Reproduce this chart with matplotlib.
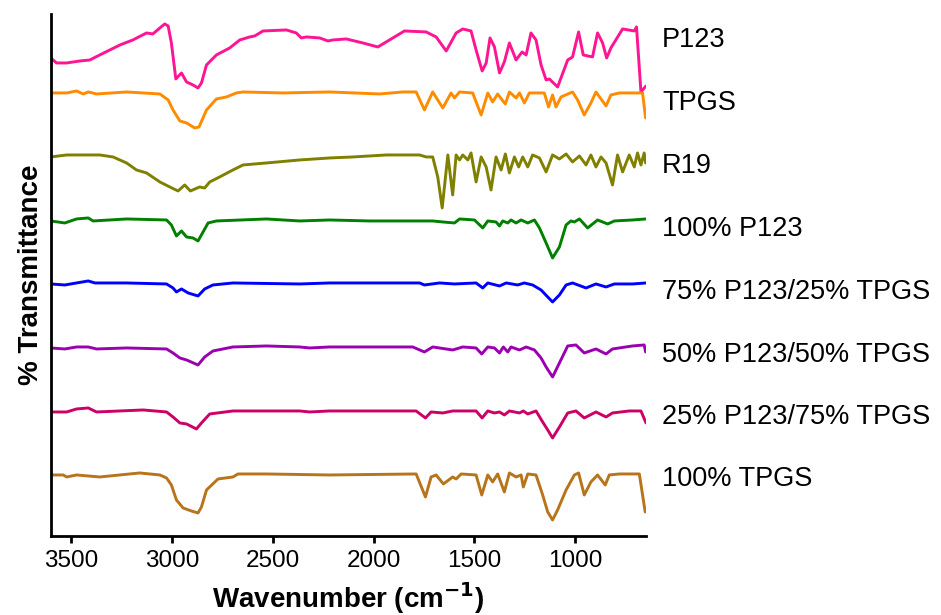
import matplotlib
matplotlib.use("Agg")
import matplotlib.pyplot as plt

plt.rcParams["font.family"] = ["Liberation Sans", "DejaVu Sans"]

# Спектры, сдвинутые по вертикали (волновое число, пропускание со смещением)
p123_wn = [3600, 3571, 3521, 3455, 3406, 3357, 3307, 3257, 3193, 3125, 3094, 3059, 3035, 3018,
           3002, 2980, 2952, 2927, 2895, 2870, 2853, 2828, 2779, 2713, 2663, 2614, 2589, 2548,
           2432, 2383, 2358, 2333, 2267, 2226, 2202, 2135, 2053, 1979, 1921, 1847, 1739, 1690,
           1640, 1591, 1558, 1517, 1492, 1462, 1442, 1423, 1401, 1376, 1352, 1327, 1294, 1264,
           1244, 1220, 1195, 1170, 1145, 1129, 1088, 1038, 1014, 984, 961, 915, 890, 865, 845,
           824, 766, 708, 697, 675, 650]
p123_t = [478, 473, 473, 475, 476, 481, 486, 491, 496, 503, 502, 508, 512, 510,
          493, 457, 463, 454, 451, 448, 453, 471, 481, 488, 496, 499, 500, 505,
          506, 503, 498, 499, 498, 495, 496, 497, 493, 489, 496, 505, 504, 499,
          485, 503, 507, 505, 486, 465, 473, 498, 489, 463, 474, 493, 476, 484,
          481, 503, 496, 471, 456, 457, 449, 476, 479, 504, 481, 479, 503, 493, 478,
          488, 507, 505, 509, 444, 450]

tpgs_wn = [3600, 3521, 3472, 3439, 3414, 3373, 3224, 3059, 3018, 2994, 2960, 2927, 2886, 2865,
           2828, 2779, 2729, 2680, 2647, 2449, 2218, 1971, 1855, 1789, 1748, 1707, 1657, 1616,
           1599, 1574, 1509, 1467, 1434, 1410, 1385, 1363, 1347, 1327, 1294, 1277, 1253, 1228,
           1154, 1133, 1113, 1096, 1071, 1014, 989, 956, 923, 898, 848, 824, 782, 667, 652]
tpgs_t = [443, 443, 445, 442, 444, 442, 444, 442, 436, 426, 415, 413, 408, 409,
          426, 437, 439, 443, 444, 443, 444, 442, 444, 444, 426, 444, 428, 443,
          438, 444, 443, 421, 443, 434, 442, 436, 432, 444, 438, 443, 433, 443,
          443, 429, 441, 429, 439, 444, 436, 421, 433, 444, 430, 441, 443, 443, 418]

r19_wn = [3600, 3521, 3357, 3291, 3224, 3175, 3125, 3059, 3010, 2969, 2936, 2908, 2862, 2837,
          2812, 2763, 2697, 2647, 2531, 2366, 2218, 2103, 1937, 1772, 1739, 1707, 1682, 1660,
          1632, 1608, 1591, 1574, 1558, 1533, 1517, 1492, 1467, 1442, 1418, 1393, 1368, 1347,
          1327, 1302, 1281, 1261, 1236, 1212, 1178, 1145, 1113, 1079, 1046, 1014, 980, 947,
          923, 898, 873, 848, 816, 791, 766, 733, 708, 692, 675, 659, 652]
r19_t = [379, 381, 381, 379, 373, 366, 363, 354, 349, 345, 351, 345, 349, 348,
         354, 359, 366, 371, 373, 376, 378, 379, 381, 381, 379, 379, 359, 328,
         381, 341, 381, 376, 381, 376, 383, 354, 379, 369, 346, 379, 366, 382,
         363, 379, 369, 379, 369, 381, 378, 364, 381, 377, 382, 374, 380, 371,
         381, 369, 379, 373, 351, 381, 364, 381, 369, 383, 371, 383, 373]

p100_wn = [3600, 3530, 3472, 3414, 3390, 3224, 3026, 3002, 2977, 2952, 2927, 2895, 2870, 2845,
           2820, 2779, 2531, 2366, 2218, 2020, 1707, 1657, 1599, 1574, 1500, 1459, 1434, 1393,
           1376, 1360, 1335, 1319, 1294, 1269, 1236, 1203, 1178, 1145, 1113, 1079, 1046, 1022,
           1005, 980, 939, 890, 840, 807, 717, 650]
p100_t = [315, 313, 317, 318, 315, 317, 316, 311, 300, 305, 299, 298, 295, 304,
          313, 315, 317, 315, 316, 315, 315, 314, 313, 317, 316, 308, 315, 314,
          310, 315, 313, 316, 313, 316, 313, 316, 308, 293, 278, 289, 311, 315,
          314, 317, 308, 316, 312, 315, 316, 317]

m7525_wn = [3600, 3530, 3472, 3414, 3381, 3224, 3026, 2994, 2977, 2952, 2919, 2870, 2837, 2796,
            2697, 2366, 2218, 1772, 1748, 1673, 1599, 1492, 1459, 1434, 1376, 1343, 1286, 1253,
            1212, 1170, 1137, 1113, 1079, 1046, 1014, 947, 898, 848, 807, 717, 650]
m7525_t = [252, 251, 253, 255, 253, 253, 252, 248, 244, 247, 243, 240, 247, 251,
           253, 252, 253, 253, 251, 253, 252, 253, 248, 253, 250, 253, 251, 253,
           251, 246, 239, 234, 241, 251, 253, 248, 252, 249, 252, 252, 253]

m5050_wn = [3600, 3530, 3472, 3414, 3373, 3224, 3026, 2994, 2960, 2927, 2870, 2837, 2796, 2697,
            2531, 2366, 2317, 2218, 1806, 1748, 1707, 1608, 1558, 1492, 1464, 1434, 1401, 1376,
            1357, 1335, 1319, 1277, 1244, 1203, 1170, 1145, 1113, 1079, 1038, 997, 956, 898,
            848, 816, 717, 659, 652]
m5050_t = [188, 187, 189, 189, 187, 188, 187, 183, 178, 176, 171, 179, 185, 189,
           190, 189, 188, 189, 189, 184, 189, 186, 189, 188, 182, 189, 188, 183,
           189, 184, 189, 186, 189, 186, 178, 169, 159, 173, 190, 191, 183, 187,
           182, 187, 190, 191, 184]

m2575_wn = [3600, 3521, 3472, 3414, 3373, 3142, 3026, 2994, 2960, 2927, 2878, 2853, 2812, 2697,
            2366, 2317, 2218, 1789, 1743, 1715, 1657, 1608, 1492, 1462, 1434, 1401, 1376, 1352,
            1327, 1277, 1258, 1236, 1195, 1162, 1137, 1113, 1079, 1038, 997, 956, 898, 848,
            816, 733, 675, 650]
m2575_t = [124, 124, 127, 128, 124, 126, 124, 119, 113, 112, 107, 113, 122, 125,
           125, 124, 125, 125, 118, 124, 123, 125, 125, 118, 125, 123, 124, 121,
           125, 123, 125, 122, 125, 114, 106, 98, 109, 123, 125, 118, 124, 119,
           123, 125, 125, 113]

t100_wn = [3600, 3538, 3521, 3472, 3357, 3159, 3059, 3026, 3002, 2977, 2944, 2903, 2870, 2853,
           2828, 2771, 2697, 2672, 2531, 2218, 1789, 1743, 1715, 1690, 1654, 1608, 1591, 1566,
           1492, 1464, 1434, 1410, 1385, 1352, 1327, 1294, 1269, 1258, 1236, 1195, 1162, 1137,
           1113, 1088, 1046, 1005, 984, 956, 923, 890, 852, 832, 782, 683, 654]
t100_t = [61, 61, 59, 61, 59, 63, 61, 58, 51, 36, 28, 25, 23, 29,
          46, 57, 59, 62, 62, 61, 62, 39, 59, 61, 52, 59, 57, 62,
          61, 41, 61, 54, 62, 44, 63, 59, 61, 49, 62, 61, 41, 24,
          16, 26, 46, 61, 63, 41, 54, 61, 51, 61, 62, 62, 24]

names = ["P123", "TPGS", "R19", "100% P123", "75% P123/25% TPGS",
         "50% P123/50% TPGS", "25% P123/75% TPGS", "100% TPGS"]
colors = ["#ff1493", "#ff8c00", "#808000", "#008000", "#0000ff",
          "#9a00b0", "#cc0066", "#b8741a"]
series = [(p123_wn, p123_t), (tpgs_wn, tpgs_t), (r19_wn, r19_t), (p100_wn, p100_t),
          (m7525_wn, m7525_t), (m5050_wn, m5050_t), (m2575_wn, m2575_t), (t100_wn, t100_t)]

fig = plt.figure(figsize=(9.41, 6.15), dpi=100)
ax = fig.add_axes([0.0539, 0.1285, 0.6326, 0.8488])

for (wn, t), c in zip(series, colors):
    ax.plot(wn, t, color=c, linewidth=2.1, solid_joinstyle="round", solid_capstyle="round")

ax.set_xlim(3600, 650)
ax.set_ylim(0, 522)

# Подписи спектров справа от графика
label_y = [496, 433, 370, 307, 244, 181, 119, 57]
for name, y in zip(names, label_y):
    ax.text(1.027, y, name, transform=ax.get_yaxis_transform(), fontsize=19.5,
            va="center", ha="left", clip_on=False)

ax.set_xticks([3500, 3000, 2500, 2000, 1500, 1000])
ax.set_yticks([])
ax.tick_params(axis="x", direction="out", length=5, width=2, labelsize=17.5, pad=5)

for side in ["top", "right"]:
    ax.spines[side].set_visible(False)
for side in ["left", "bottom"]:
    ax.spines[side].set_linewidth(2)

ax.set_xlabel("Wavenumber (cm$^{\\mathbf{-1}}$)", fontsize=20, fontweight="bold", labelpad=6)
ax.set_ylabel("% Transmittance", fontsize=20, fontweight="bold", labelpad=5)

fig.savefig("out.png", dpi=100)
